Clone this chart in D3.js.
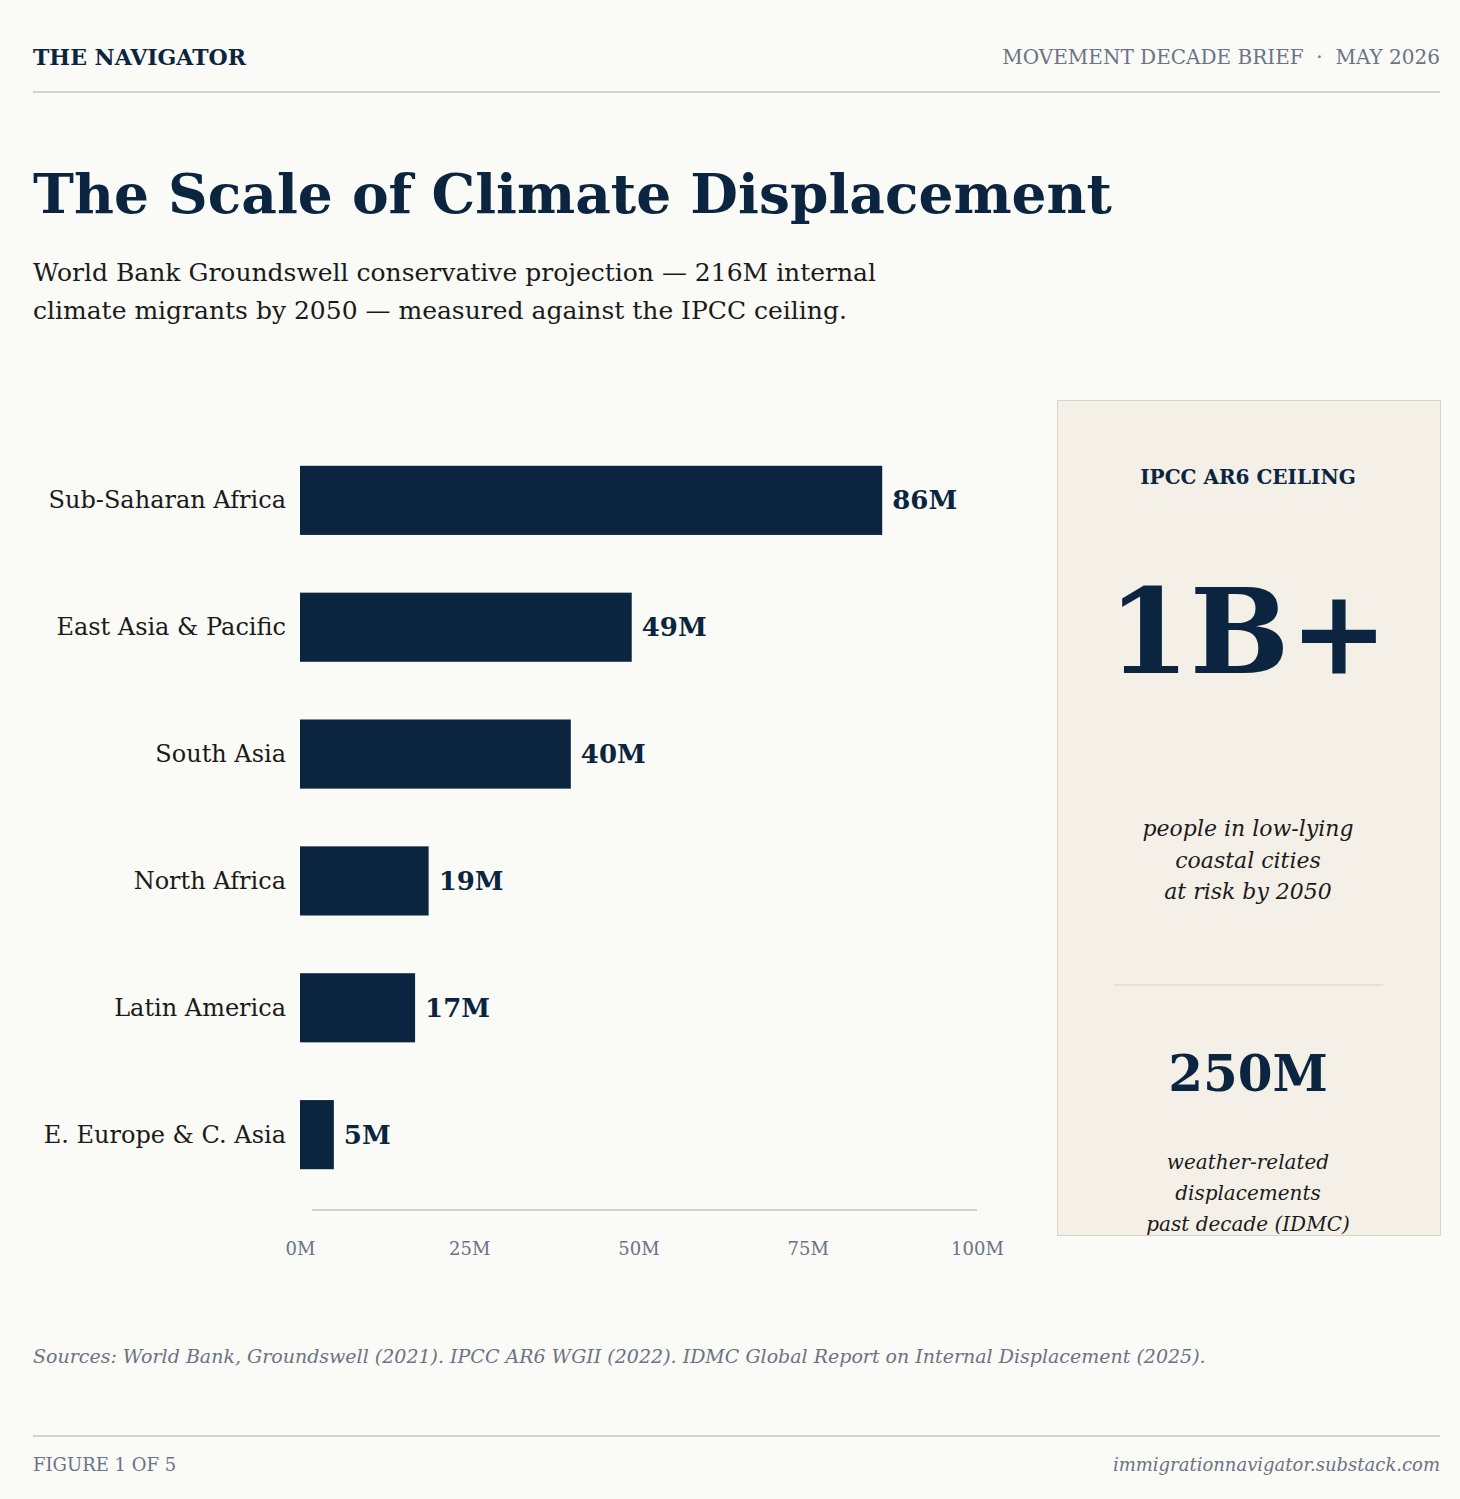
<!DOCTYPE html>
<html><head><meta charset="utf-8">
<script src="https://cdn.jsdelivr.net/npm/d3@7"></script>
<style>body{margin:0;background:#fafaf6}</style>
</head><body><div id="chart"></div>
<script>
var regions = ["Sub-Saharan Africa","East Asia & Pacific","South Asia","North Africa","Latin America","E. Europe & C. Asia"];
var migrants = [86,49,40,19,17,5];
var ticks = [0,25,50,75,100];

var navy = "#0b2540", grey = "#6b7385", ink = "#1a1a1a", rule = "#d5d2c8";
var font = "DejaVu Serif, serif";

var svg = d3.select("#chart").append("svg").attr("width",1460).attr("height",1499)
  .style("font-family", font);
svg.append("rect").attr("width",1460).attr("height",1499).attr("fill","#fafaf6");

// header
svg.append("text").attr("x",33).attr("y",65).attr("font-size",22).attr("font-weight","bold").attr("fill",navy).text("THE NAVIGATOR");
svg.append("text").attr("x",1440).attr("y",64).attr("text-anchor","end").attr("font-size",20).attr("fill",grey)
  .text("MOVEMENT DECADE BRIEF  \u00b7  MAY 2026").attr("xml:space","preserve");
svg.append("line").attr("x1",33).attr("x2",1440).attr("y1",92).attr("y2",92).attr("stroke",rule).attr("stroke-width",2);

svg.append("text").attr("x",33).attr("y",213).attr("font-size",55).attr("font-weight","bold").attr("fill",navy).text("The Scale of Climate Displacement");
svg.append("text").attr("x",33).attr("y",281).attr("font-size",25).attr("fill",ink).text("World Bank Groundswell conservative projection \u2014 216M internal");
svg.append("text").attr("x",33).attr("y",319).attr("font-size",25).attr("fill",ink).text("climate migrants by 2050 \u2014 measured against the IPCC ceiling.");

// chart
var x = d3.scaleLinear().domain([0,100]).range([300,977]);
var y = d3.scaleBand().domain(regions).range([437,1198]).paddingInner(0.455).paddingOuter(0.227);

svg.selectAll(".bar").data(regions).enter().append("rect")
  .attr("x",x(0)).attr("y",d=>y(d)).attr("height",y.bandwidth())
  .attr("width",(d,i)=>x(migrants[i])-x(0)).attr("fill",navy);
svg.selectAll(".val").data(regions).enter().append("text")
  .attr("x",(d,i)=>x(migrants[i])+10).attr("y",d=>y(d)+y.bandwidth()/2+9)
  .attr("font-size",26).attr("font-weight","bold").attr("fill",navy)
  .text((d,i)=>migrants[i]+"M");
svg.selectAll(".cat").data(regions).enter().append("text")
  .attr("x",286).attr("y",d=>y(d)+y.bandwidth()/2+8).attr("text-anchor","end")
  .attr("font-size",24).attr("fill",ink).text(d=>d);

svg.append("line").attr("x1",312).attr("x2",977).attr("y1",1210).attr("y2",1210).attr("stroke",rule).attr("stroke-width",2);
var axis = svg.append("g").attr("transform","translate(0,1210)")
  .call(d3.axisBottom(x).tickValues(ticks).tickSize(0).tickPadding(32).tickFormat(d=>d+"M"));
axis.select(".domain").remove();
axis.selectAll("text").attr("font-family",font).attr("font-size",18).attr("fill",grey);

// panel
svg.append("rect").attr("x",1057.5).attr("y",400.5).attr("width",383).attr("height",835).attr("fill","#f4f0e8").attr("stroke","#d9d4c4");
var cx = 1248;
svg.append("text").attr("x",cx).attr("y",484).attr("text-anchor","middle").attr("font-size",20).attr("font-weight","bold").attr("fill",navy).text("IPCC AR6 CEILING");
svg.append("text").attr("x",cx).attr("y",673).attr("text-anchor","middle").attr("font-size",118).attr("font-weight","bold").attr("fill",navy).text("1B+");
["people in low-lying","coastal cities","at risk by 2050"].forEach(function(t,i){
  svg.append("text").attr("x",cx).attr("y",836+i*31.5).attr("text-anchor","middle").attr("font-size",22).attr("font-style","italic").attr("fill",ink).text(t);
});
svg.append("line").attr("x1",1114).attr("x2",1383).attr("y1",985).attr("y2",985).attr("stroke",rule);
svg.append("text").attr("x",cx).attr("y",1091).attr("text-anchor","middle").attr("font-size",50).attr("font-weight","bold").attr("fill",navy).text("250M");
["weather-related","displacements","past decade (IDMC)"].forEach(function(t,i){
  svg.append("text").attr("x",cx).attr("y",1169+i*31).attr("text-anchor","middle").attr("font-size",20).attr("font-style","italic").attr("fill",ink).text(t);
});

// footer
svg.append("text").attr("x",33).attr("y",1363).attr("font-size",19).attr("font-style","italic").attr("fill",grey)
  .text("Sources: World Bank, Groundswell (2021). IPCC AR6 WGII (2022). IDMC Global Report on Internal Displacement (2025).");
svg.append("line").attr("x1",33).attr("x2",1440).attr("y1",1436).attr("y2",1436).attr("stroke",rule).attr("stroke-width",2);
svg.append("text").attr("x",33).attr("y",1471).attr("font-size",18).attr("fill",grey).text("FIGURE 1 OF 5");
svg.append("text").attr("x",1440).attr("y",1471).attr("text-anchor","end").attr("font-size",18).attr("font-style","italic").attr("fill",grey).text("immigrationnavigator.substack.com");
</script></body></html>
